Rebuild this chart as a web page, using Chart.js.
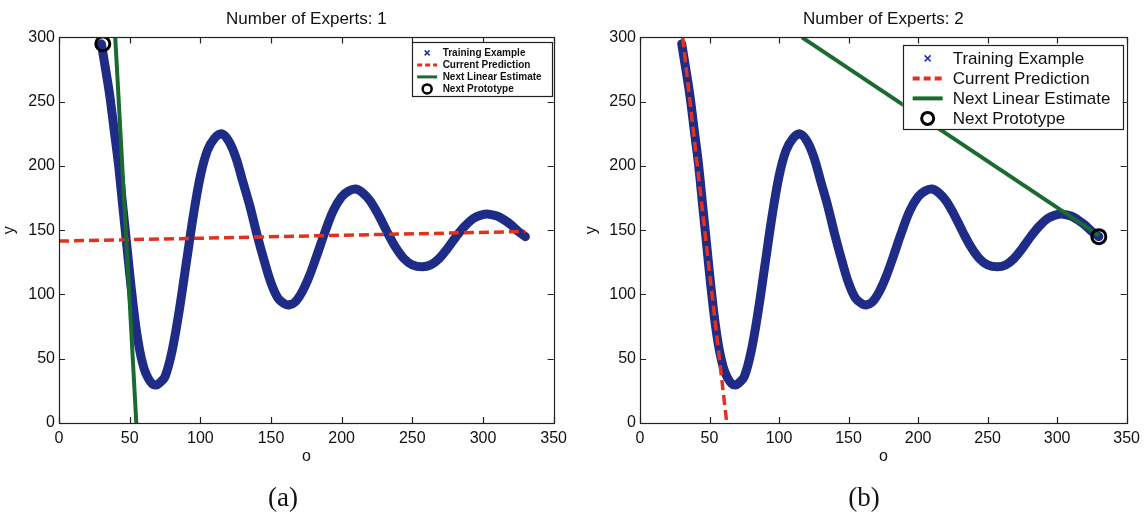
<!DOCTYPE html>
<html>
<head>
<meta charset="utf-8">
<script src="https://cdn.jsdelivr.net/npm/chart.js@4.4.0/dist/chart.umd.min.js"></script>
<style>
html,body{margin:0;padding:0;background:#fff;width:1146px;height:518px;overflow:hidden}
.wrap{position:absolute;top:0;width:573px;height:518px}
.cap{position:absolute;top:482px;width:100px;height:30px;line-height:30px;text-align:center;
  font-family:'Liberation Serif','DejaVu Serif',serif;font-size:27px;color:#111}
</style>
</head>
<body>
<div class="wrap" style="left:0"><canvas id="ca" width="573" height="518"></canvas></div>
<div class="wrap" style="left:573px"><canvas id="cb" width="573" height="518"></canvas></div>
<div class="cap" style="left:233px">(a)</div>
<div class="cap" style="left:814px">(b)</div>
<script>
// ---------- data ----------
const trainX = [30,33,36,39,42,45,48,51,54,57,60,63,66,68.5,71,75,80,85,90,95,100,105,110,115,120,125,130,135,140,145,150,155,160,163,167,172,177,182,188,194,200,205,210,215,220,226,232,238,244,250,257,263,269,275,281,287,293,298,304,310,315,320,325,330];
const trainY = [295,275,254,228,202,170,138,106,78,57,43,35,30.5,29.5,31,36,56,87,124,161,192,212,221.5,225,219.5,207,188,169,147,127,109,97,92.5,92,94,102,114,129,148,165,176,180.5,182,179,173,162,149,137,128,123,121.5,123,128,136,145,153,159,161.5,162.5,161,158,154,149,145];

// panel (a)
const predAX = [0, 330];
const predAY = [141.5, 149];
const estAX = [39.8, 54.7];
const estAY = [300, 0];
const protoAX = [31];
const protoAY = [295];

// panel (b)
const predBX = [30.7, 62.4];
const predBY = [300, 0];
const estBX = [116.5, 330];
const estBY = [300, 146];
const protoBX = [330];
const protoBY = [145];

const xTicks = [0,50,100,150,200,250,300,350];
const yTicks = [0,50,100,150,200,250,300];
const titles = ['Number of Experts: 1', 'Number of Experts: 2'];
const legendLabels = ['Training Example', 'Current Prediction', 'Next Linear Estimate', 'Next Prototype'];

// ---------- styles ----------
const BLUE = '#1e2c88', RED = '#e2321e', GREEN = '#1b6a2f', INK = '#111';
const FONT = "'Liberation Sans', Arial, Helvetica, sans-serif";

function pts(xs, ys){ return xs.map((x,i)=>({x:x, y:ys[i]})); }

const framePlugin = {
  id: 'frame',
  afterDatasetsDraw(chart){
    const {ctx, chartArea:a, scales:{x, y}} = chart;
    ctx.save();
    ctx.strokeStyle = '#222';
    ctx.lineWidth = 1.2;
    ctx.strokeRect(Math.round(a.left)+0.5, Math.round(a.top)+0.5, Math.round(a.right-a.left), Math.round(a.bottom-a.top));
    ctx.beginPath();
    xTicks.forEach(v=>{
      const p = Math.round(x.getPixelForValue(v))+0.5;
      ctx.moveTo(p, a.bottom); ctx.lineTo(p, a.bottom-6);
      ctx.moveTo(p, a.top); ctx.lineTo(p, a.top+6);
    });
    yTicks.forEach(v=>{
      const p = Math.round(y.getPixelForValue(v))+0.5;
      ctx.moveTo(a.left, p); ctx.lineTo(a.left+6, p);
      ctx.moveTo(a.right, p); ctx.lineTo(a.right-6, p);
    });
    ctx.stroke();
    ctx.restore();
  }
};

const boxLegendPlugin = {
  id: 'boxLegend',
  afterDraw(chart, args, o){
    const {ctx, chartArea:a} = chart;
    const left = a.right - o.dx - o.w, top = a.top + o.dy;
    ctx.save();
    ctx.fillStyle = '#fff';
    ctx.fillRect(left, top, o.w, o.h);
    ctx.strokeStyle = '#222';
    ctx.lineWidth = 1.2;
    ctx.strokeRect(Math.round(left)+0.5, Math.round(top)+0.5, o.w, o.h);
    ctx.font = o.font;
    ctx.fillStyle = INK;
    ctx.textBaseline = 'middle';
    ctx.textAlign = 'left';
    legendLabels.forEach((lab, i)=>{
      const cy = top + o.row0 + i*o.rowH;
      const cx = left + o.symX;
      if(i===0){
        ctx.strokeStyle = '#2233aa'; ctx.lineWidth = 1.5;
        const s = o.mk;
        ctx.beginPath();
        ctx.moveTo(cx-s, cy-s); ctx.lineTo(cx+s, cy+s);
        ctx.moveTo(cx-s, cy+s); ctx.lineTo(cx+s, cy-s);
        ctx.stroke();
      } else if(i===1){
        ctx.strokeStyle = RED; ctx.lineWidth = o.lw;
        ctx.setLineDash(o.dash);
        ctx.beginPath(); ctx.moveTo(cx-o.half, cy); ctx.lineTo(cx+o.half, cy); ctx.stroke();
        ctx.setLineDash([]);
      } else if(i===2){
        ctx.strokeStyle = GREEN; ctx.lineWidth = o.lw;
        ctx.beginPath(); ctx.moveTo(cx-o.half, cy); ctx.lineTo(cx+o.half, cy); ctx.stroke();
      } else {
        ctx.strokeStyle = '#000'; ctx.lineWidth = o.cw;
        ctx.beginPath(); ctx.arc(cx, cy, o.cr, 0, Math.PI*2); ctx.stroke();
      }
      ctx.fillStyle = INK;
      ctx.fillText(lab, left + o.textX, cy + 0.5);
    });
    ctx.restore();
  }
};

function makeChart(id, title, pred, est, proto, padLeft, yWidth, legendOpts){
  return new Chart(document.getElementById(id), {
    type: 'scatter',
    data: {
      datasets: [
        { label: legendLabels[3], data: proto, showLine:false, pointRadius:7, pointHoverRadius:7,
          pointBorderWidth:3, pointBorderColor:'#000', pointBackgroundColor:'rgba(0,0,0,0)', order:0 },
        { label: legendLabels[2], data: est, showLine:true, borderColor:GREEN, borderWidth:4,
          pointRadius:0, order:1 },
        { label: legendLabels[1], data: pred, showLine:true, borderColor:RED, borderWidth:3.5,
          borderDash:[10,5], pointRadius:0, order:2 },
        { label: legendLabels[0], data: pts(trainX, trainY), showLine:true, borderColor:BLUE,
          borderWidth:9, pointRadius:0, tension:0.35, borderCapStyle:'round',
          borderJoinStyle:'round', order:3 }
      ]
    },
    options: {
      responsive:false, animation:false, events:[],
      layout: { padding: { top:0, left:padLeft, right:0, bottom:52 } },
      plugins: {
        legend: { display:false },
        tooltip: { enabled:false },
        title: { display:true, text:title, fullSize:false, color:INK,
          font:{ family:FONT, size:17, weight:'normal' }, padding:{ top:9, bottom:8 } },
        boxLegend: legendOpts
      },
      scales: {
        x: { type:'linear', min:0, max:350,
          afterBuildTicks(s){ s.ticks = xTicks.map(v=>({value:v})); },
          afterFit(s){ s.height = 43; },
          ticks:{ color:INK, font:{family:FONT, size:16}, padding:6, maxRotation:0 },
          grid:{ display:false, drawTicks:false }, border:{ display:false },
          title:{ display:true, text:'o', color:INK, font:{family:FONT, size:16}, padding:{top:0,bottom:0} } },
        y: { type:'linear', min:0, max:300,
          afterBuildTicks(s){ s.ticks = yTicks.map(v=>({value:v})); },
          afterFit(s){ s.width = yWidth; },
          ticks:{ color:INK, font:{family:FONT, size:16}, padding:4 },
          grid:{ display:false, drawTicks:false }, border:{ display:false },
          title:{ display:true, text:'y', color:INK, font:{family:FONT, size:16}, padding:{top:0,bottom:0} } }
      }
    },
    plugins: [framePlugin, boxLegendPlugin]
  });
}

makeChart('ca', titles[0], pts(predAX, predAY), pts(estAX, estAY), pts(protoAX, protoAY), 0, 59,
  { w:140, h:54, dx:2, dy:5, row0:10.5, rowH:12, symX:15.5, textX:31, half:10, mk:2.5,
    lw:3, dash:[5,3], cr:4.5, cw:2.5, font:"bold 10px " + FONT });
makeChart('cb', titles[1], pts(predBX, predBY), pts(estBX, estBY), pts(protoBX, protoBY), 9, 58,
  { w:220, h:84, dx:4, dy:8, row0:13, rowH:20, symX:25, textX:50, half:15, mk:3,
    lw:4, dash:[7,4], cr:6, cw:3, font:"17px " + FONT });
</script>
</body>
</html>
